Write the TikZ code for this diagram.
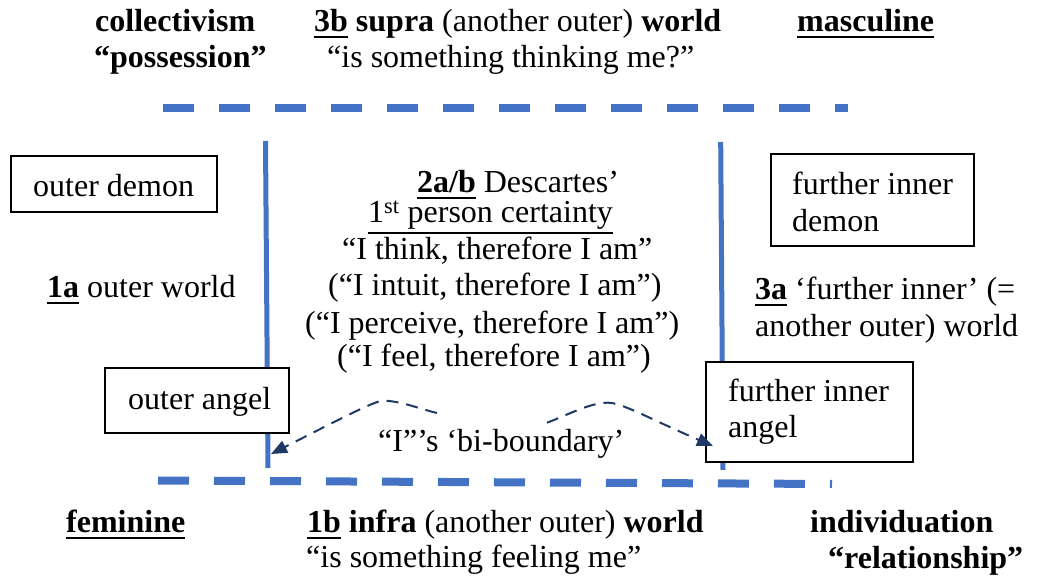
\documentclass[tikz,border=0pt]{standalone}
\usepackage{fontspec}
\setmainfont{Liberation Serif}
\usetikzlibrary{arrows.meta}
\definecolor{lineblue}{HTML}{4472C4}
\definecolor{navy}{HTML}{203864}
\newcommand\myul[3]{\setbox0\hbox{#3}\rlap{\rule[-#1]{\wd0}{#2}}\box0\relax}
\newcommand\bul[1]{\myul{6.5pt}{2.7pt}{\textbf{#1}}}
\begin{document}
\begin{tikzpicture}[x=1pt,y=1pt,
  txt/.style={anchor=base west, inner sep=0pt, font=\fontsize{32}{36}\selectfont},
  boxnode/.style={draw=black, line width=1.3pt, fill=white, inner sep=0pt},
  dashline/.style={draw=lineblue, line width=8pt, dash pattern=on 31pt off 25pt},
  vline/.style={draw=lineblue, line width=5pt},
  bicurve/.style={draw=navy, line width=2pt, dash pattern=on 12pt off 8pt, -{Triangle[length=16pt,width=13pt]}}]
\path[use as bounding box] (0,0) rectangle (1037,584);

% boundary lines
\coordinate (tl) at (163,476);
\coordinate (tr) at (848,476);
\coordinate (bl) at (158,103.5);
\coordinate (br) at (832,100);
\coordinate (lvt) at (265.5,443);
\coordinate (lvb) at (268,116);
\coordinate (rvt) at (720.7,442);
\coordinate (rvb) at (723,114);
\draw[dashline] (tl) -- (tr);
\draw[dashline] (bl) -- (br);
\draw[vline] (lvt) -- (lvb);
\draw[vline] (rvt) -- (rvb);

% top texts
\node[txt] (coll) at (95,552) {\textbf{collectivism}};
\node[txt] (poss) at (94,516) {\textbf{“possession”}};
\node[txt] (supra) at (314,552) {\bul{3b} \textbf{supra} (another outer) \textbf{world}};
\node[txt] (think) at (327,516) {“is something thinking me?”};
\node[txt] (masc) at (797,552) {\bul{masculine}};

% boxes
\node[boxnode, minimum width=206pt, minimum height=56pt] (odbox) at (114,400) {};
\node[txt] (od) at (33,387) {outer demon};
\node[boxnode, minimum width=184pt, minimum height=65pt] (oabox) at (197,183.5) {};
\node[txt] (oa) at (128,174) {outer angel};
\node[boxnode, minimum width=203pt, minimum height=92pt] (fidbox) at (872.5,384) {};
\node[txt] (fid1) at (792,389) {further inner};
\node[txt] (fid2) at (792,352) {demon};
\node[boxnode, minimum width=207pt, minimum height=100pt] (fiabox) at (809.5,172) {};
\node[txt] (fia1) at (728,182) {further inner};
\node[txt] (fia2) at (728,146) {angel};

% side texts
\node[txt] (oneA) at (47,286) {\bul{1a} outer world};
\node[txt] (threeA1) at (755,284) {\bul{3a} ‘further inner’ (=};
\node[txt] (threeA2) at (755,247) {another outer) world};

% centre
\node[txt] (c1) at (417,391) {\bul{2a/b} Descartes’};
\node[txt] (c2) at (368,361) {\myul{11pt}{2pt}{1\textsuperscript{st} person certainty}};
\node[txt] (c3) at (342,324) {“I think, therefore I am”};
\node[txt] (c4) at (328,288) {(“I intuit, therefore I am”)};
\node[txt] (c5) at (305,250) {(“I perceive, therefore I am”)};
\node[txt] (c6) at (337,217) {(“I feel, therefore I am”)};

% bi-boundary
\node[txt] (bb) at (378,132) {“I”’s ‘bi-boundary’};
\coordinate (bbL) at (437,171);
\coordinate (bbR) at (547,161.3);
\coordinate (tipL) at (271,130);
\coordinate (tipR) at (713,138);
\draw[bicurve] (bbL) .. controls (420,175) and (400,183.3) .. (383,183.3)
  .. controls (375,183.3) and (340,165) .. (tipL);
\draw[bicurve] (bbR) .. controls (570,170) and (590,181.3) .. (608,181.3)
  .. controls (622,181.3) and (650,165) .. (tipR);

% bottom texts
\node[txt] (fem) at (66,51) {\bul{feminine}};
\node[txt] (infra) at (307,51) {\bul{1b} \textbf{infra} (another outer) \textbf{world}};
\node[txt] (feel) at (306,16) {“is something feeling me”};
\node[txt] (indiv) at (810,51) {\textbf{individuation}};
\node[txt] (rel) at (828,15) {\textbf{“relationship”}};
\end{tikzpicture}
\end{document}
